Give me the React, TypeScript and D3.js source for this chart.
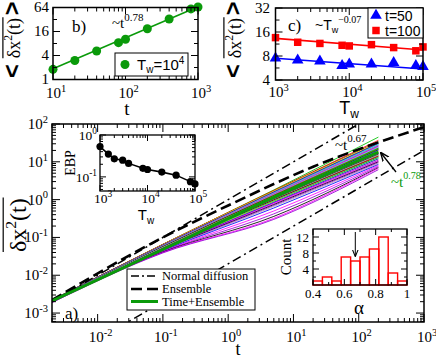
import * as d3 from "d3";

const SERIF = "'Liberation Serif','Times New Roman',serif";
const SANS = "'Liberation Sans',Arial,sans-serif";
const GREEN = "#0a9a0a";

// panel b: MSD vs t at Tw = 1e4
const bT = [10, 20, 40, 80, 100, 200, 400, 800, 1000];
const bMsd = [1.8, 3.0, 5.2, 8.4, 10.2, 18.7, 33, 59, 66];
const bFitT = [10, 1000];
const bFitMsd = [1.85, 67];
const bXTicks = [10, 100, 1000];
const bYTicks = [1, 4, 16, 64];
const bYMinor = [2, 8, 32];

// panel c: MSD vs Tw
const cTw = [1000, 2000, 4000, 8000, 10000, 20000, 40000, 80000, 100000];
const cMsd50 = [7.5, 7.1, 6.9, 6.05, 6.3, 6.3, 6.6, 6.05, 5.9];
const cMsd100 = [13.6, 11.9, 11.5, 10.9, 10.7, 11.1, 10.2, 9.3, 10.4];
const cFitTw = [1000, 100000];
const cFit50 = [7.5, 5.5];
const cFit100 = [13.3, 9.5];
const cXTicks = [1000, 10000, 100000];
const cYTicks = [4, 8, 16, 32];
const cYMinor = [5.66, 11.3, 22.6];

// inset: EBP vs Tw
const ebpTw = [1000, 1500, 2000, 3000, 4000, 8000, 10000, 20000, 40000, 80000, 100000];
const ebpVal = [0.53, 0.35, 0.27, 0.25, 0.21, 0.16, 0.15, 0.13, 0.11, 0.077, 0.068];
const ebpXTicks = [1000, 10000, 100000];
const ebpYTicks = [0.1, 1];

// inset: histogram of alpha
const alphaEdges = [0.4, 0.46, 0.52, 0.58, 0.64, 0.7, 0.76, 0.82, 0.88, 0.94, 1.0];
const alphaCounts = [1, 2, 1, 7, 6, 7, 9, 12, 3, 1];
const alphaMark = 0.67;
const histXTicks = [0.4, 0.6, 0.8, 1];
const histXMinor = [0.5, 0.7, 0.9];
const histYTicks = [4, 8, 12];
const histYMinor = [2, 6, 10];

// main panel
const mainXTicks = [0.01, 0.1, 1, 10, 100, 1000];
const mainYTicks = [0.001, 0.01, 0.1, 1, 10, 100];
const bundleT = [0.002, 0.1, 5, 200];
const bundleMsd = [
  [0.0022, 0.066, 1.8, 45],
  [0.0022, 0.066, 1.75, 37],
  [0.0022, 0.065, 1.7, 34],
  [0.0022, 0.065, 1.7, 32],
  [0.0021, 0.064, 1.65, 33],
  [0.0022, 0.063, 1.6, 31],
  [0.0021, 0.062, 1.55, 30],
  [0.0021, 0.061, 1.5, 28],
  [0.0021, 0.06, 1.5, 29],
  [0.0021, 0.06, 1.45, 27],
  [0.0021, 0.059, 1.4, 26],
  [0.0021, 0.058, 1.4, 25],
  [0.0021, 0.058, 1.35, 24],
  [0.0021, 0.057, 1.3, 23],
  [0.0021, 0.056, 1.3, 22],
  [0.0021, 0.056, 1.25, 21],
  [0.0021, 0.055, 1.25, 22],
  [0.0021, 0.055, 1.2, 20],
  [0.0021, 0.054, 1.2, 19],
  [0.0021, 0.054, 1.15, 19],
  [0.0021, 0.053, 1.15, 18],
  [0.0021, 0.053, 1.1, 17],
  [0.002, 0.052, 1.1, 17],
  [0.002, 0.052, 1.08, 16],
  [0.002, 0.051, 1.05, 16],
  [0.002, 0.051, 1.0, 15],
  [0.002, 0.05, 1.0, 15],
  [0.002, 0.05, 0.98, 14],
  [0.002, 0.049, 0.95, 14],
  [0.002, 0.049, 0.92, 13],
  [0.002, 0.048, 0.9, 13],
  [0.002, 0.048, 0.88, 12],
  [0.002, 0.047, 0.85, 12],
  [0.002, 0.047, 0.82, 11],
  [0.002, 0.046, 0.78, 10.5],
  [0.002, 0.046, 0.74, 10],
  [0.002, 0.045, 0.7, 9.5],
  [0.002, 0.045, 0.66, 9],
  [0.002, 0.044, 0.6, 8.5],
  [0.002, 0.043, 0.5, 8],
  [0.002, 0.042, 0.42, 7.5],
  [0.002, 0.041, 0.36, 7],
  [0.0019, 0.04, 0.32, 6.8],
  [0.0019, 0.039, 0.3, 6.2],
];
const bundleColors = [
  "#00c000", "#ff0000", "#000000", "#ffa500", "#ffff00", "#0000ff", "#670748", "#9400d3",
  "#00ffff", "#bc8f8f", "#7220c8", "#ff00ff", "#40e0d0", "#008b00", "#ff0000", "#000000",
  "#00c000", "#0000ff", "#ffff00", "#ffa500", "#9400d3", "#40e0d0", "#bc8f8f", "#7220c8",
  "#670748", "#008b00", "#b0b0b0", "#000000", "#ff0000", "#00ffff", "#00c000", "#ffff00",
  "#0000ff", "#9400d3", "#ff00ff", "#000000", "#9400d3", "#b0b0b0", "#0000ff", "#ff00ff",
  "#9400d3", "#000000", "#ff00ff", "#9400d3",
];
const ensT = [0.002, 0.1, 1, 20, 1000];
const ensMsd = [0.0022, 0.1, 0.7, 7.4, 83];
const teT = [0.002, 0.1, 5, 200];
const teMsd = [0.0021, 0.048, 1.15, 18];
const ndT = [0.002, 1000];
const ndUpper = [0.002, 1000];
const ndLower = [0.00004, 20];

type Sc = any;

function logMinor(s: Sc) {
  return s.ticks().filter((v: number) => Math.abs(Math.log10(v) - Math.round(Math.log10(v))) > 1e-6);
}

function Frame({ x, y, xMaj, xMin, yMaj, yMin, maj, min, sw = 1.5 }: any) {
  const [xa, xb] = x.range();
  const [ya, yb] = y.range();
  const segs: number[][] = [];
  xMaj.forEach((v: number) => { const p = x(v); segs.push([p, ya, p, ya - maj], [p, yb, p, yb + maj]); });
  xMin.forEach((v: number) => { const p = x(v); segs.push([p, ya, p, ya - min], [p, yb, p, yb + min]); });
  yMaj.forEach((v: number) => { const p = y(v); segs.push([xa, p, xa + maj, p], [xb, p, xb - maj, p]); });
  yMin.forEach((v: number) => { const p = y(v); segs.push([xa, p, xa + min, p], [xb, p, xb - min, p]); });
  return (
    <g>
      {segs.map((s, i) => <line key={i} x1={s[0]} y1={s[1]} x2={s[2]} y2={s[3]} stroke="#000" strokeWidth={1} />)}
      <rect x={xa} y={yb} width={xb - xa} height={ya - yb} fill="none" stroke="#000" strokeWidth={sw} />
    </g>
  );
}

function Pow({ x, y, v, size, anchor = "middle" }: any) {
  const e = Math.round(Math.log10(v));
  return (
    <text x={x} y={y} fontFamily={SERIF} fontSize={size} textAnchor={anchor}>
      10<tspan dy={-size * 0.42} fontSize={size * 0.7}>{e}</tspan>
    </text>
  );
}

function MsdLabel({ x, y, size, brackets }: any) {
  const w = size * 2.27;
  const bw = brackets ? size * 1.1 : 0;
  return (
    <g transform={`translate(${x},${y}) rotate(-90)`}>
      {brackets && (
        <text x={0} y={0} fontFamily={SANS} fontWeight="bold" fontSize={size * 1.3}>&lt;</text>
      )}
      <text x={bw} y={0} fontFamily={SERIF} fontSize={size}>
        δx<tspan dy={-size * 0.42} fontSize={size * 0.65}>2</tspan>
        <tspan dy={size * 0.42}>(t)</tspan>
      </text>
      <line x1={bw} x2={bw + w} y1={-size * 0.95} y2={-size * 0.95} stroke="#000" strokeWidth={1.2} />
      {brackets && (
        <text x={bw + w + 2} y={0} fontFamily={SANS} fontWeight="bold" fontSize={size * 1.3}>&gt;</text>
      )}
    </g>
  );
}

export default function App() {
  // ---------- panel b ----------
  const bx = d3.scaleLog().domain([10, 1000]).range([53, 198]);
  const by = d3.scaleLog().base(2).domain([1, 64]).range([79.5, 7.5]);
  const bLine = d3.line<number>().x((_, i) => bx(bFitT[i])).y((d) => by(d));

  // ---------- panel c ----------
  const cx = d3.scaleLog().domain([1000, 100000]).range([275.5, 423]);
  const cy = d3.scaleLog().base(2).domain([4, 32]).range([80, 8]);
  const cLine = d3.line<number>().x((_, i) => cx(cFitTw[i])).y((d) => cy(d));
  const tri = d3.symbol().type(d3.symbolTriangle).size(58)();
  const sq = d3.symbol().type(d3.symbolSquare).size(56)();

  // ---------- main ----------
  const mx = d3.scaleLog().domain([0.002, 1000]).range([52, 424]);
  const my = d3.scaleLog().domain([5.8e-4, 100]).range([322, 124]);
  const mLine = (ts: number[]) =>
    d3.line<number>().x((_, i) => mx(ts[i])).y((d) => my(d)).curve(d3.curveMonotoneX);

  // ---------- EBP inset ----------
  const ex = d3.scaleLog().domain([1000, 100000]).range([100, 195]);
  const ey = d3.scaleLog().domain([0.046, 1]).range([191, 135]);
  const eLine = d3.line<number>().x((_, i) => ex(ebpTw[i])).y((d) => ey(d));

  // ---------- histogram inset ----------
  const hx = d3.scaleLinear().domain([0.4, 1]).range([313, 407]);
  const hy = d3.scaleLinear().domain([0, 14]).range([285, 229]);

  return (
    <svg width={436} height={359} style={{ position: "absolute", left: 0, top: 0, background: "#fff" }}>
      <defs>
        <clipPath id="mclip">
          <rect x={52} y={124} width={372} height={198} />
        </clipPath>
        <marker id="arr" viewBox="0 0 10 10" refX={9} refY={5} markerWidth={7} markerHeight={7} orient="auto">
          <path d="M0,1 L10,5 L0,9" fill="none" stroke="#000" strokeWidth={1.5} />
        </marker>
      </defs>

      {/* ===== panel b ===== */}
      <path d={bLine(bFitMsd) || ""} stroke={GREEN} strokeWidth={1.6} fill="none" />
      {bT.map((t, i) => (
        <circle key={i} cx={bx(t)} cy={by(bMsd[i])} r={4.5} fill={GREEN} />
      ))}
      <Frame x={bx} y={by} xMaj={bXTicks} xMin={logMinor(bx)} yMaj={bYTicks} yMin={bYMinor} maj={7} min={4} />
      {bXTicks.map((v) => <Pow key={v} x={bx(v) + 3} y={98} v={v} size={15} />)}
      {bYTicks.map((v) => (
        <text key={v} x={49} y={by(v) + 4.5} fontFamily={SERIF} fontSize={15} textAnchor="end">{v}</text>
      ))}
      <text x={72} y={32} fontFamily={SERIF} fontSize={17}>b)</text>
      <text x={112} y={28} fontFamily={SERIF} fontSize={15}>
        ~t<tspan dy={-7} fontSize={11}>0.78</tspan>
      </text>
      <rect x={115} y={53} width={73} height={23} fill="#fff" stroke="#000" strokeWidth={1} />
      <circle cx={125} cy={64.5} r={4.5} fill={GREEN} />
      <text x={137} y={70} fontFamily={SANS} fontSize={15}>
        T<tspan dy={3} fontSize={10}>w</tspan><tspan dy={-3}>=10</tspan>
        <tspan dy={-6} fontSize={10}>4</tspan>
      </text>
      <text x={127} y={115} fontFamily={SERIF} fontSize={19} textAnchor="middle">t</text>
      <MsdLabel x={20} y={78} size={18} brackets />

      {/* ===== panel c ===== */}
      <path d={cLine(cFit100) || ""} stroke="#ff0000" strokeWidth={1.6} fill="none" />
      <path d={cLine(cFit50) || ""} stroke="#0000ff" strokeWidth={1.6} fill="none" />
      {cTw.map((t, i) => (
        <path key={"s" + i} d={sq || ""} transform={`translate(${cx(t)},${cy(cMsd100[i])})`} fill="#ff0000" />
      ))}
      {cTw.map((t, i) => (
        <path key={"t" + i} d={tri || ""} transform={`translate(${cx(t)},${cy(cMsd50[i])})`} fill="#0000ff" />
      ))}
      <Frame x={cx} y={cy} xMaj={cXTicks} xMin={logMinor(cx)} yMaj={cYTicks} yMin={cYMinor} maj={7} min={4} />
      {cXTicks.map((v) => <Pow key={v} x={cx(v) + 3} y={97} v={v} size={15} />)}
      {cYTicks.map((v) => (
        <text key={v} x={270} y={cy(v) + 4.5} fontFamily={SERIF} fontSize={15} textAnchor="end">{v}</text>
      ))}
      <text x={288} y={31} fontFamily={SERIF} fontSize={17}>c)</text>
      <text x={315} y={30} fontFamily={SANS} fontSize={14}>
        ~T<tspan dy={3} fontSize={9}>w</tspan>
        <tspan dy={-10} fontSize={10} fontFamily={SERIF}>−0.07</tspan>
      </text>
      <rect x={368} y={8} width={55} height={30} fill="#fff" stroke="#000" strokeWidth={1} />
      <path d={tri || ""} transform="translate(376,15.5)" fill="#0000ff" />
      <text x={385} y={20.5} fontFamily={SANS} fontSize={14}>t=50</text>
      <path d={sq || ""} transform="translate(376,30.5)" fill="#ff0000" />
      <text x={385} y={35.5} fontFamily={SANS} fontSize={14}>t=100</text>
      <text x={349} y={114} fontFamily={SANS} fontSize={18} textAnchor="middle">
        T<tspan dy={4} fontSize={12}>w</tspan>
      </text>
      <MsdLabel x={241} y={78} size={18} brackets />

      {/* ===== main panel ===== */}
      <g clipPath="url(#mclip)">
        {bundleMsd.map((vals, i) => (
          <path key={i} d={mLine(bundleT)(vals) || ""} stroke={bundleColors[i]} strokeWidth={0.85} fill="none" />
        ))}
        <path d={mLine(ndT)(ndUpper) || ""} stroke="#000" strokeWidth={1.5} strokeDasharray="9,4,2,4" fill="none" />
        <path d={mLine(ndT)(ndLower) || ""} stroke="#000" strokeWidth={1.5} strokeDasharray="9,4,2,4" fill="none" />
        <path d={mLine(ensT)(ensMsd) || ""} stroke="#000" strokeWidth={2.6} strokeDasharray="11,5" fill="none" />
        <path d={mLine(teT)(teMsd) || ""} stroke={GREEN} strokeWidth={3} fill="none" />
      </g>
      <Frame x={mx} y={my} xMaj={mainXTicks} xMin={logMinor(mx)} yMaj={mainYTicks} yMin={logMinor(my)} maj={8} min={4} />
      {mainXTicks.map((v) => <Pow key={v} x={mx(v) + 3} y={342} v={v} size={15} />)}
      {mainYTicks.map((v) => <Pow key={v} x={48} y={my(v) + 5} v={v} size={15} anchor="end" />)}
      <text x={238} y={355} fontFamily={SERIF} fontSize={18} textAnchor="middle">t</text>
      <MsdLabel x={26} y={252} size={24} />
      <text x={65} y={319} fontFamily={SERIF} fontSize={17}>a)</text>
      <text x={335} y={150} fontFamily={SERIF} fontSize={15}>
        ~t<tspan dy={-8} fontSize={11}>0.67</tspan>
      </text>
      <line x1={396} y1={172} x2={381} y2={153} stroke="#000" strokeWidth={1.3} markerEnd="url(#arr)" />
      <text x={391} y={187} fontFamily={SERIF} fontSize={15} fill={GREEN}>
        ~t<tspan dy={-8} fontSize={10}>0.78</tspan>
      </text>

      {/* legend */}
      <rect x={127} y={269} width={128} height={41} fill="#fff" stroke="#000" strokeWidth={1} />
      <line x1={131} x2={158} y1={276} y2={276} stroke="#000" strokeWidth={1.5} strokeDasharray="8,3,2,3" />
      <text x={162} y={280} fontFamily={SERIF} fontSize={12.5}>Normal diffusion</text>
      <line x1={131} x2={158} y1={289} y2={289} stroke="#000" strokeWidth={2.6} strokeDasharray="11,5" />
      <text x={162} y={293} fontFamily={SERIF} fontSize={12.5}>Ensemble</text>
      <line x1={131} x2={158} y1={301.5} y2={301.5} stroke={GREEN} strokeWidth={3} />
      <text x={162} y={305.5} fontFamily={SERIF} fontSize={12.5}>Time+Ensemble</text>

      {/* ===== EBP inset ===== */}
      <rect x={100} y={135} width={95} height={56} fill="#fff" />
      <path d={eLine(ebpVal) || ""} stroke="#000" strokeWidth={1.6} fill="none" />
      {ebpTw.map((t, i) => <circle key={i} cx={ex(t)} cy={ey(ebpVal[i])} r={3.6} fill="#000" />)}
      <Frame x={ex} y={ey} xMaj={ebpXTicks} xMin={logMinor(ex)} yMaj={ebpYTicks} yMin={logMinor(ey)} maj={6} min={3} sw={1.3} />
      {ebpXTicks.map((v) => <Pow key={v} x={ex(v) + 3} y={203} v={v} size={13.5} />)}
      {ebpYTicks.map((v) => <Pow key={v} x={97} y={ey(v) + 5} v={v} size={13.5} anchor="end" />)}
      <text transform="translate(75,163) rotate(-90)" fontFamily={SERIF} fontSize={14} textAnchor="middle">EBP</text>
      <text x={146} y={220} fontFamily={SANS} fontSize={15} textAnchor="middle">
        T<tspan dy={4} fontSize={10}>w</tspan>
      </text>

      {/* ===== histogram inset ===== */}
      <rect x={313} y={229} width={94} height={56} fill="#fff" />
      {alphaCounts.map((c, i) => (
        <rect key={i} x={hx(alphaEdges[i])} y={hy(c)} width={hx(alphaEdges[i + 1]) - hx(alphaEdges[i])}
          height={hy(0) - hy(c)} fill="none" stroke="#ff0000" strokeWidth={1.4} />
      ))}
      <line x1={hx(alphaMark)} x2={hx(alphaMark)} y1={232} y2={256} stroke="#000" strokeWidth={1} markerEnd="url(#arr)" />
      <Frame x={hx} y={hy} xMaj={histXTicks} xMin={histXMinor} yMaj={histYTicks} yMin={histYMinor} maj={6} min={3} sw={1.3} />
      {histXTicks.map((v) => (
        <text key={v} x={hx(v)} y={298} fontFamily={SERIF} fontSize={13} textAnchor="middle">{v}</text>
      ))}
      {histYTicks.map((v) => (
        <text key={v} x={309} y={hy(v) + 5} fontFamily={SERIF} fontSize={13} textAnchor="end">{v}</text>
      ))}
      <text transform="translate(291,257) rotate(-90)" fontFamily={SERIF} fontSize={15} textAnchor="middle">Count</text>
      <text x={359} y={314} fontFamily={SERIF} fontSize={19} textAnchor="middle">α</text>
    </svg>
  );
}
